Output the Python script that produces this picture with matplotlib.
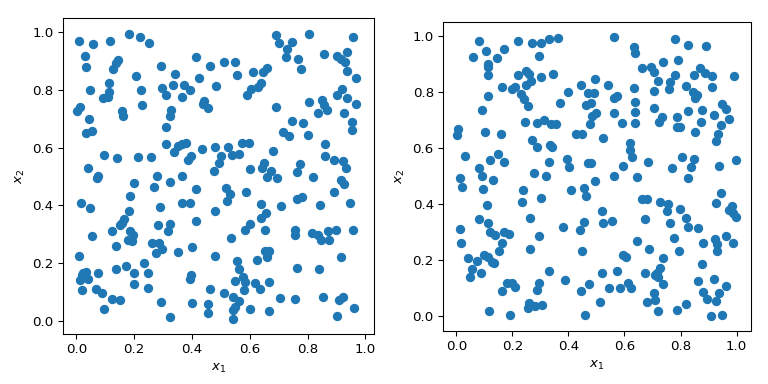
import numpy as np
import matplotlib
matplotlib.use('Agg')
import matplotlib.pyplot as plt

# points, (x1, x2) per sample
left_pts = np.array([
    (0.009,0.969),(0.058,0.960),(0.118,0.969),(0.182,0.995),(0.219,0.983),(0.252,0.962),(0.030,0.917),
    (0.035,0.879),(0.144,0.906),(0.138,0.894),(0.127,0.874),(0.293,0.883),(0.415,0.914),(0.462,0.883),
    (0.342,0.856),(0.205,0.848),(0.425,0.842),(0.113,0.825),(0.049,0.799),(0.224,0.799),(0.298,0.807),
    (0.335,0.817),(0.374,0.817),(0.392,0.800),(0.311,0.782),(0.365,0.775),(0.482,0.813),(0.113,0.793),
    (0.092,0.773),(0.111,0.777),(0.226,0.749),(0.443,0.763),(0.438,0.752),(0.457,0.738),(0.328,0.732),
    (0.325,0.709),(0.012,0.740),(0.002,0.726),(0.159,0.728),(0.162,0.709),(0.044,0.701),
    (0.511,0.896),(0.550,0.896),(0.555,0.851),(0.691,0.990),(0.702,0.962),(0.746,0.967),(0.730,0.944),
    (0.726,0.914),(0.767,0.907),(0.779,0.874),(0.804,0.995),(0.857,0.925),(0.901,0.918),(0.917,0.907),
    (0.931,0.898),(0.938,0.932),(0.958,0.983),(0.938,0.865),(0.968,0.842),(0.612,0.863),(0.647,0.863),
    (0.661,0.877),(0.638,0.826),(0.629,0.810),(0.606,0.805),(0.590,0.784),(0.691,0.740),(0.804,0.759),
    (0.850,0.766),(0.857,0.747),(0.836,0.722),(0.869,0.731),(0.903,0.782),(0.919,0.805),(0.938,0.773),
    (0.968,0.752),(0.926,0.722),(0.746,0.692),(0.783,0.687),(0.954,0.689),
    (0.954,0.663),(0.716,0.653),(0.737,0.640),(0.802,0.644),(0.573,0.616),(0.597,0.616),(0.525,0.602),
    (0.500,0.570),(0.539,0.575),(0.562,0.577),(0.495,0.547),(0.682,0.589),(0.859,0.612),(0.859,0.570),
    (0.892,0.556),(0.924,0.554),(0.933,0.531),(0.649,0.547),(0.643,0.528),(0.675,0.519),(0.661,0.498),
    (0.693,0.494),(0.774,0.542),(0.763,0.515),(0.601,0.526),(0.818,0.498),(0.915,0.487),(0.926,0.475),
    (0.892,0.447),(0.518,0.459),(0.532,0.438),(0.520,0.415),(0.587,0.447),(0.640,0.403),(0.707,0.396),
    (0.765,0.422),(0.781,0.429),(0.843,0.401),(0.947,0.408),(0.656,0.373),(0.638,0.357),(0.601,0.336),
    (0.585,0.316),(0.654,0.316),(0.757,0.316),(0.816,0.305),(0.871,0.311),(0.899,0.313),(0.958,0.314),
    (0.755,0.297),(0.836,0.297),(0.848,0.280),(0.875,0.280),(0.536,0.285),(0.555,0.206),(0.562,0.180),
    (0.624,0.210),(0.652,0.242),(0.668,0.240),(0.659,0.219),(0.917,0.219),(0.763,0.182),(0.841,0.178),
    (0.550,0.136),(0.578,0.150),(0.583,0.134),(0.580,0.106),(0.619,0.131),(0.636,0.108),(0.668,0.134),
    (0.511,0.097),(0.543,0.081),(0.564,0.069),(0.548,0.048),(0.541,0.036),(0.543,0.006),(0.601,0.041),
    (0.666,0.034),(0.705,0.078),(0.758,0.076),(0.855,0.081),(0.908,0.071),(0.924,0.083),(0.961,0.043),
    (0.903,0.016),
    (0.035,0.651),(0.055,0.658),(0.309,0.672),(0.309,0.612),(0.339,0.584),(0.353,0.607),(0.365,0.612),
    (0.381,0.616),(0.397,0.570),(0.385,0.558),(0.436,0.595),(0.480,0.602),(0.478,0.518),(0.097,0.575),
    (0.141,0.563),(0.215,0.568),(0.258,0.568),(0.042,0.528),(0.076,0.503),(0.072,0.495),(0.201,0.477),
    (0.279,0.501),(0.270,0.462),(0.325,0.482),(0.367,0.501),(0.415,0.457),(0.187,0.431),(0.016,0.408),
    (0.048,0.390),(0.291,0.394),(0.367,0.408),(0.394,0.408),(0.480,0.380),(0.182,0.379),(0.164,0.352),
    (0.157,0.339),(0.152,0.332),(0.122,0.312),(0.185,0.312),(0.282,0.332),(0.325,0.336),(0.415,0.345),
    (0.055,0.293),(0.196,0.298),(0.178,0.280),(0.192,0.275),(0.138,0.258),(0.263,0.268),(0.286,0.268),
    (0.298,0.249),(0.275,0.233),(0.316,0.310),(0.353,0.238),(0.401,0.254),(0.009,0.224),(0.480,0.224),
    (0.235,0.199),(0.171,0.189),(0.136,0.180),(0.199,0.166),(0.249,0.164),(0.076,0.164),(0.023,0.166),
    (0.035,0.168),(0.019,0.157),(0.014,0.141),(0.042,0.145),(0.397,0.159),(0.394,0.145),(0.201,0.127),
    (0.247,0.113),(0.019,0.106),(0.069,0.110),(0.090,0.094),(0.122,0.076),(0.150,0.071),(0.095,0.041),
    (0.293,0.064),(0.401,0.061),(0.457,0.057),(0.457,0.025),(0.464,0.109),(0.325,0.012),
])

right_pts = np.array([
    (0.079,0.981),(0.107,0.945),(0.060,0.925),(0.145,0.921),(0.171,0.952),(0.219,0.981),(0.269,0.976),
    (0.303,0.976),(0.329,0.988),(0.362,0.993),(0.293,0.929),(0.114,0.900),(0.114,0.888),(0.114,0.862),
    (0.221,0.862),(0.250,0.876),(0.260,0.864),(0.267,0.840),(0.250,0.826),(0.303,0.852),(0.343,0.864),
    (0.162,0.817),(0.198,0.810),(0.210,0.819),(0.231,0.793),(0.241,0.776),(0.257,0.750),(0.112,0.786),
    (0.093,0.735),(0.400,0.800),(0.371,0.760),(0.445,0.824),(0.493,0.845),(0.471,0.795),(0.491,0.795),
    (0.481,0.762),(0.464,0.752),(0.498,0.726),(0.484,0.714),(0.245,0.693),(0.288,0.690),(0.314,0.700),
    (0.338,0.686),(0.357,0.686),(0.476,0.686),
    (0.563,0.995),(0.635,0.960),(0.639,0.940),(0.782,0.988),(0.825,0.969),(0.892,0.964),(0.663,0.886),
    (0.696,0.890),(0.704,0.871),(0.737,0.907),(0.792,0.914),(0.780,0.862),(0.763,0.836),(0.759,0.812),
    (0.720,0.838),(0.818,0.821),(0.849,0.860),(0.870,0.886),(0.889,0.869),(0.911,0.855),(0.911,0.817),
    (0.992,0.857),(0.846,0.798),(0.859,0.790),(0.851,0.779),(0.542,0.824),(0.635,0.814),(0.573,0.786),
    (0.563,0.779),(0.639,0.764),(0.706,0.803),(0.704,0.743),(0.563,0.726),(0.639,0.729),(0.825,0.731),
    (0.877,0.736),(0.920,0.717),(0.949,0.755),(0.963,0.738),(0.973,0.702),(0.735,0.710),(0.723,0.693),
    (0.789,0.710),(0.787,0.676),(0.592,0.688),(0.639,0.688),(0.873,0.693),(0.946,0.681),
    (0.799,0.674),(0.851,0.657),(0.935,0.648),(0.928,0.626),(0.525,0.636),(0.620,0.617),(0.620,0.593),
    (0.627,0.567),(0.596,0.536),(0.685,0.548),(0.563,0.500),(0.644,0.495),(0.770,0.529),(0.806,0.567),
    (0.849,0.562),(0.837,0.533),(0.825,0.493),(0.939,0.536),(0.999,0.557),(0.661,0.417),(0.680,0.417),
    (0.727,0.405),(0.754,0.398),(0.751,0.374),(0.799,0.381),(0.673,0.345),(0.761,0.333),(0.820,0.348),
    (0.828,0.319),(0.863,0.314),(0.520,0.374),(0.525,0.331),(0.554,0.340),(0.946,0.438),(0.928,0.403),
    (0.973,0.379),(0.985,0.393),(0.987,0.367),(0.999,0.352),
    (0.005,0.669),(0.003,0.645),(0.103,0.657),(0.160,0.650),(0.269,0.629),(0.288,0.602),(0.334,0.610),
    (0.341,0.602),(0.426,0.648),(0.450,0.650),(0.029,0.571),(0.150,0.579),(0.121,0.557),(0.171,0.550),
    (0.081,0.529),(0.091,0.500),(0.131,0.486),(0.014,0.493),(0.019,0.460),(0.095,0.452),(0.276,0.510),
    (0.321,0.500),(0.331,0.548),(0.393,0.562),(0.403,0.531),(0.469,0.545),(0.481,0.545),(0.493,0.483),
    (0.238,0.450),(0.233,0.407),(0.303,0.421),(0.410,0.450),(0.457,0.455),(0.462,0.429),(0.110,0.395),
    (0.079,0.345),(0.114,0.331),(0.014,0.312),(0.264,0.350),(0.381,0.317),(0.441,0.307),(0.457,0.336),
    (0.119,0.298),(0.138,0.288),(0.169,0.298),(0.186,0.293),(0.164,0.260),(0.153,0.231),(0.017,0.260),
    (0.043,0.207),(0.074,0.195),(0.100,0.219),(0.114,0.212),(0.126,0.193),(0.134,0.190),(0.057,0.167),
    (0.050,0.138),(0.088,0.152),(0.264,0.240),(0.295,0.286),(0.450,0.233),(0.331,0.160),(0.388,0.129),
    (0.181,0.119),(0.198,0.117),(0.210,0.102),(0.164,0.088),(0.295,0.117),(0.288,0.093),(0.445,0.088),
    (0.474,0.114),(0.260,0.045),(0.257,0.029),(0.281,0.036),(0.307,0.038),(0.117,0.017),(0.193,0.003),
    (0.460,0.003),
    (0.644,0.267),(0.689,0.238),(0.775,0.279),(0.796,0.231),(0.739,0.207),(0.596,0.217),(0.604,0.212),
    (0.520,0.152),(0.575,0.162),(0.673,0.152),(0.716,0.152),(0.725,0.171),(0.709,0.145),(0.718,0.140),
    (0.739,0.114),(0.546,0.098),(0.585,0.098),(0.611,0.117),(0.623,0.100),(0.704,0.081),(0.680,0.050),
    (0.709,0.055),(0.720,0.017),(0.789,0.021),(0.820,0.043),(0.511,0.050),(0.882,0.262),(0.923,0.274),
    (0.930,0.255),(0.932,0.231),(0.961,0.286),(0.989,0.262),(0.875,0.186),(0.861,0.124),(0.921,0.131),
    (0.963,0.107),(0.880,0.086),(0.896,0.060),(0.928,0.053),(0.937,0.081),(0.909,0.000),(0.949,0.003),
])

fig = plt.figure(figsize=(8, 4), dpi=96)

# left panel
ax1 = fig.add_axes([0.082, 0.130, 0.405, 0.823])
ax1.scatter(left_pts[:, 0], left_pts[:, 1])
ax1.set_xlim(-0.046, 1.030)
ax1.set_ylim(-0.047, 1.050)
ax1.set_xlabel('$x_1$')
ax1.set_ylabel('$x_2$')

# right panel
ax2 = fig.add_axes([0.577, 0.138, 0.401, 0.805])
ax2.scatter(right_pts[:, 0], right_pts[:, 1])
ax2.set_xlim(-0.0475, 1.052)
ax2.set_ylim(-0.054, 1.050)
ax2.set_xlabel('$x_1$')
ax2.set_ylabel('$x_2$')

fig.savefig('out.png', dpi=96)
